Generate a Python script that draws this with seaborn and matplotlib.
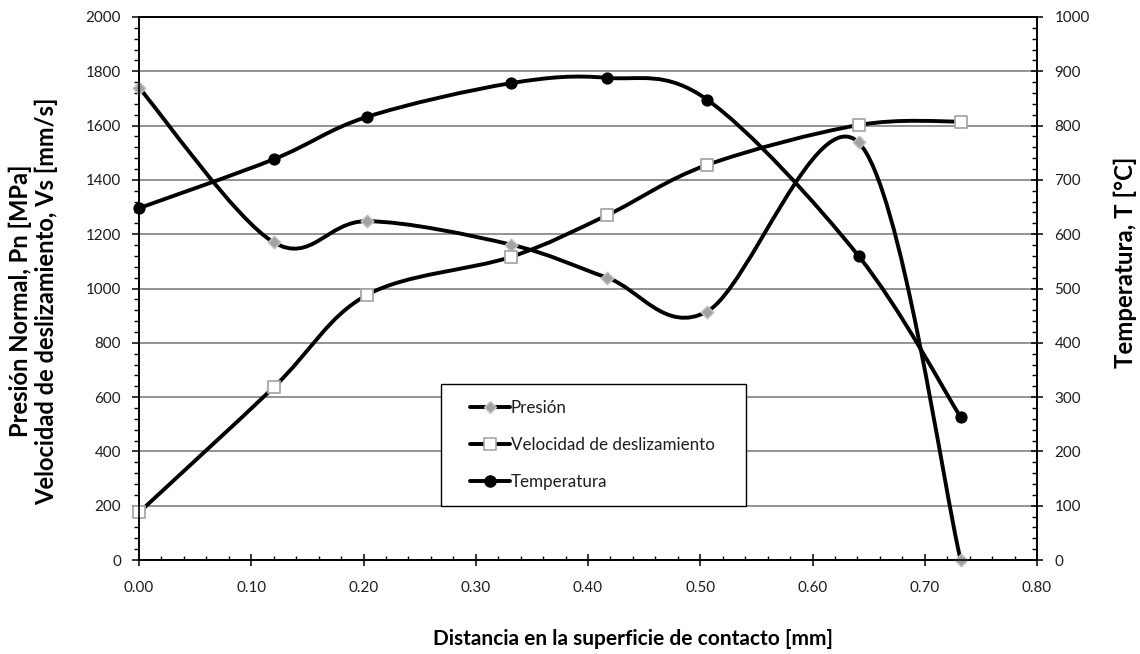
import numpy as np
import pandas as pd
import matplotlib
matplotlib.use("Agg")
import matplotlib.pyplot as plt
import seaborn as sns
from matplotlib.path import Path
from matplotlib.patches import PathPatch
from matplotlib.lines import Line2D
from matplotlib.legend_handler import HandlerLine2D
from matplotlib.ticker import MultipleLocator, FormatStrFormatter

# Measured profiles along the contact surface
distancia = [0.0, 0.120, 0.203, 0.331, 0.417, 0.506, 0.641, 0.732]        # mm
presion = [1740, 1170, 1248, 1162, 1040, 915, 1538, 0]                     # MPa
velocidad = [175, 636, 976, 1116, 1270, 1455, 1602, 1615]                  # mm/s
temperatura = [648, 738, 816, 878, 888, 848, 560, 263]                     # °C

series_labels = ["Presión", "Velocidad de deslizamiento", "Temperatura"]
x_label = "Distancia en la superficie de contacto [mm]"
y_label_left = ["Presión Normal, Pn [MPa]", "Velocidad de deslizamiento, Vs [mm/s]"]
y_label_right = "Temperatura, T [°C]"

df = pd.DataFrame({"dist": distancia, "presion": presion,
                   "velocidad": velocidad, "temperatura": temperatura})

sns.set_theme(style="white")
plt.rcParams["font.family"] = ["Lato", "DejaVu Sans"]

TXT = "#1c1c26"
W, H = 1140, 654
fig = plt.figure(figsize=(W / 100, H / 100), dpi=100)
renderer = fig.canvas.get_renderer()


def text_extent(s, size, weight="normal"):
    t = fig.text(0, 0, s, fontsize=size, fontweight=weight)
    bb = t.get_window_extent(renderer=renderer)
    t.remove()
    return bb.width, bb.height


def fit_size(s, target_px, weight="normal"):
    """Font size (pt) at which string s is target_px wide."""
    w, _ = text_extent(s, 10, weight)
    return 10 * target_px / w


FS_TICK = fit_size("2000", 35)
FS_LEG = fit_size(series_labels[1], 205)
FS_TITLE = fit_size(x_label, 400, "bold")
FS_YL = fit_size(y_label_left[1], 410, "bold")
FS_YR = fit_size(y_label_right, 211, "bold")

ax = fig.add_axes([139 / W, 1 - 560 / H, 898 / W, 543 / H])
ax2 = ax.twinx()


def smooth_path(xs, ys):
    """Piecewise cubic Bezier through the points (spreadsheet-style smoothing)."""
    pts = np.column_stack([xs, ys]).astype(float)
    n = len(pts)
    verts = [pts[0]]
    codes = [Path.MOVETO]
    for i in range(n - 1):
        p0 = pts[max(i - 1, 0)]
        p1 = pts[i]
        p2 = pts[i + 1]
        p3 = pts[min(i + 2, n - 1)]
        verts += [p1 + (p2 - p0) / 6.0, p2 - (p3 - p1) / 6.0, p2]
        codes += [Path.CURVE4] * 3
    return Path(verts, codes)


LW = 2.8
for axis, col in [(ax, "presion"), (ax, "velocidad"), (ax2, "temperatura")]:
    axis.add_patch(PathPatch(smooth_path(df["dist"], df[col]), facecolor="none",
                             edgecolor="black", lw=LW, capstyle="round",
                             joinstyle="round", zorder=3))

# markers
sns.scatterplot(data=df, x="dist", y="presion", marker="D", s=42, color="#a2a2a2",
                edgecolor="#c4c4c4", linewidth=1.0, ax=ax, zorder=4, legend=False)
sns.scatterplot(data=df, x="dist", y="velocidad", marker="s", s=85, color="white",
                edgecolor="#a8a8a8", linewidth=1.3, ax=ax, zorder=4, legend=False)
sns.scatterplot(data=df, x="dist", y="temperatura", marker="o", s=64, color="black",
                edgecolor="black", linewidth=0.8, ax=ax2, zorder=4, legend=False)
for a in (ax, ax2):
    for coll in a.collections:
        coll.set_clip_on(False)

# axes limits and ticks
ax.set_xlim(0, 0.80)
ax.set_ylim(0, 2000)
ax2.set_ylim(0, 1000)
ax.xaxis.set_major_locator(MultipleLocator(0.10))
ax.xaxis.set_minor_locator(MultipleLocator(0.02))
ax.xaxis.set_major_formatter(FormatStrFormatter("%.2f"))
ax.yaxis.set_major_locator(MultipleLocator(200))
ax.yaxis.set_minor_locator(MultipleLocator(40))
ax2.yaxis.set_major_locator(MultipleLocator(100))
ax2.yaxis.set_minor_locator(MultipleLocator(20))

ax.set_xlabel("")
ax.set_ylabel("")
ax2.set_ylabel("")

ax.yaxis.grid(True, which="major", color="#8a8a8a", lw=1.3)
ax.xaxis.grid(False)
ax.set_axisbelow(True)

for a in (ax, ax2):
    for s in a.spines.values():
        s.set_color("black")
        s.set_linewidth(1.2)

ax.tick_params(axis="x", which="major", direction="inout", length=9, width=1.1,
               color="black", bottom=True, top=False, pad=10.5, labelsize=FS_TICK,
               labelcolor=TXT)
ax.tick_params(axis="x", which="minor", direction="in", length=3, width=1.0,
               color="black", bottom=True, top=False)
ax.tick_params(axis="y", which="major", direction="out", length=5, width=1.1,
               color="black", left=True, right=False, pad=8, labelsize=FS_TICK,
               labelcolor=TXT)
ax.tick_params(axis="y", which="minor", direction="out", length=3.5, width=1.0,
               color="black", left=True, right=False)
ax2.tick_params(axis="y", which="major", direction="inout", length=8, width=1.1,
                color="black", right=True, left=False, pad=8.5, labelsize=FS_TICK,
                labelcolor=TXT)
ax2.tick_params(axis="y", which="minor", direction="in", length=3.5, width=1.0,
                color="black", right=True, left=False)

# axis titles
fig.text(633 / W, 1 - 639 / H, x_label, ha="center", va="center",
         fontsize=FS_TITLE, fontweight="bold", color="black")
for xc, line in zip((20, 46), y_label_left):
    fig.text(xc / W, 1 - 301 / H, line, ha="center", va="center", rotation=90,
             fontsize=FS_YL, fontweight="bold", color="black")
fig.text(1125 / W, 1 - 262 / H, y_label_right, ha="center", va="center", rotation=90,
         fontsize=FS_YR, fontweight="bold", color="black")

# legend geometry (in units of the legend font size)
fs_px = FS_LEG * 100 / 72
_, text_h = text_extent(series_labels[1], FS_LEG)
row = 37
labelspacing = (row - text_h) / fs_px
borderpad = (122 - 3 * text_h - 2 * (row - text_h)) / (2 * fs_px)
first = 441 + borderpad * fs_px
xpad = (470 - first) / fs_px
textpad = 0.05
handlelength = (511 - first) / fs_px - textpad

handles = [
    Line2D([], [], color="black", lw=LW, marker="D", markersize=6,
           markerfacecolor="#a2a2a2", markeredgecolor="#c4c4c4", markeredgewidth=1.0),
    Line2D([], [], color="black", lw=LW, marker="s", markersize=9,
           markerfacecolor="white", markeredgecolor="#a8a8a8", markeredgewidth=1.2),
    Line2D([], [], color="black", lw=LW, marker="o", markersize=8,
           markerfacecolor="black", markeredgecolor="black"),
]
leg = ax2.legend(handles, series_labels, loc="upper left",
                 bbox_to_anchor=(441 / W, 1 - 506 / H, 305 / W, 122 / H),
                 bbox_transform=fig.transFigure, mode="expand", borderaxespad=0,
                 frameon=True, fancybox=False, framealpha=1, edgecolor="black",
                 facecolor="white", fontsize=FS_LEG, handlelength=handlelength,
                 handletextpad=textpad, labelspacing=labelspacing,
                 borderpad=borderpad, numpoints=1,
                 handler_map={Line2D: HandlerLine2D(xpad=xpad)})
leg.get_frame().set_linewidth(1.0)
for t in leg.get_texts():
    t.set_color(TXT)
leg.set_zorder(10)

fig.savefig("out.png", dpi=100)
